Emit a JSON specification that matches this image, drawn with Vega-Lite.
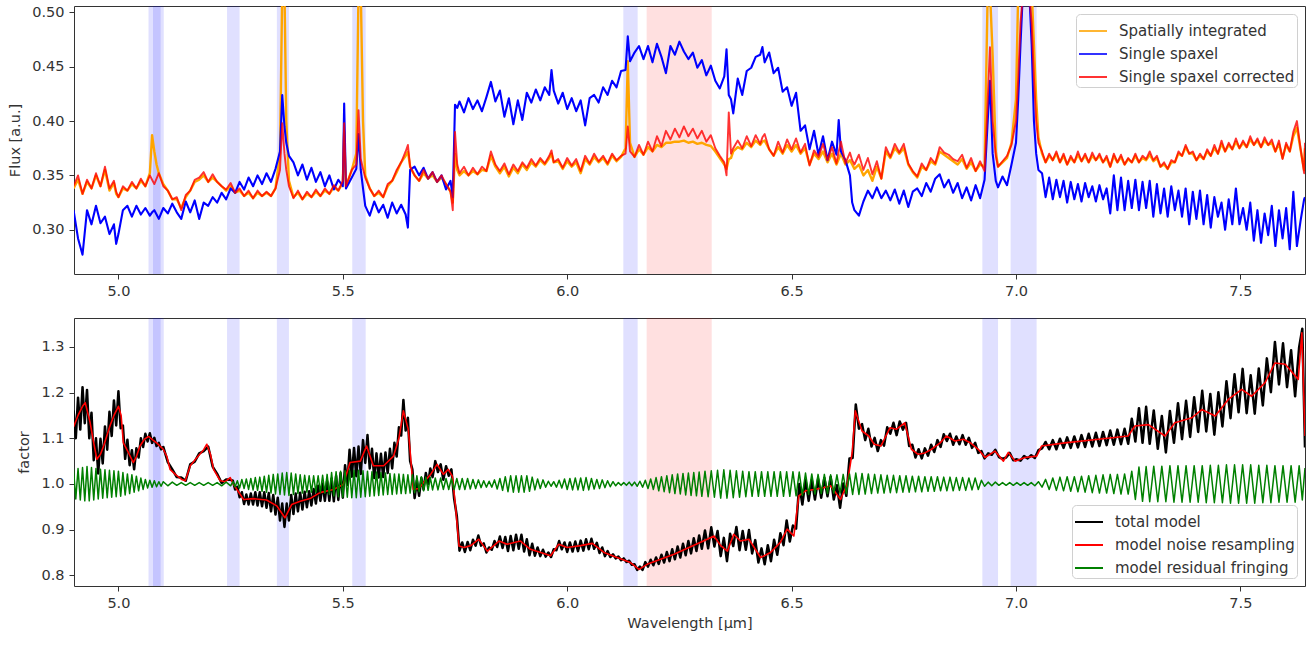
{
"$schema":"https://vega.github.io/schema/vega-lite/v6.json",
"padding":{"left":7,"top":3,"right":8,"bottom":5},
"spacing":19,
"resolve":{"scale":{"color":"independent"}},
"config":{
"font":"DejaVu Sans",
"view":{"stroke":"#333","strokeWidth":1},
"axis":{"grid":false,"domain":false,"tickColor":"#333","tickSize":5,"labelFont":"DejaVu Sans","labelFontSize":14.5,"labelColor":"#333","titleFont":"DejaVu Sans","titleFontSize":14.5,"titleFontWeight":"normal","titleColor":"#333","labelPadding":5,"titlePadding":9},
"legend":{"labelFont":"DejaVu Sans","labelFontSize":15,"labelColor":"#333","labelLimit":400,"symbolType":"stroke","symbolSize":784,"symbolStrokeWidth":2,"fillColor":"white","strokeColor":"#d0d0d0","cornerRadius":4,"padding":2,"rowPadding":-1,"labelOffset":11,"offset":8}
},
"datasets":{
"bb":[{"x":5.067,"x2":5.094},{"x":5.077,"x2":5.101},{"x":5.242,"x2":5.27},{"x":5.353,"x2":5.38},{"x":5.521,"x2":5.551},{"x":6.125,"x2":6.157},{"x":6.925,"x2":6.96},{"x":6.988,"x2":7.046}],
"br":[{"x":6.177,"x2":6.322}],
"top":[
{"x":4.9,"b":0.318,"c":0.34,"s":0.338},{"x":4.91,"b":0.292,"c":0.35,"s":0.346},{"x":4.92,"b":0.277,"c":0.333,"s":0.333},{"x":4.93,"b":0.318,"c":0.346,"s":0.344},{"x":4.94,"b":0.305,"c":0.338,"s":0.338},{"x":4.95,"b":0.322,"c":0.352,"s":0.35},{"x":4.96,"b":0.306,"c":0.34,"s":0.34},{"x":4.97,"b":0.312,"c":0.358,"s":0.355},{"x":4.98,"b":0.296,"c":0.338,"s":0.336},{"x":4.99,"b":0.305,"c":0.345,"s":0.343},{"x":4.995,"b":0.287,"c":0.335,"s":0.333},
{"x":5.0,"b":0.296,"c":0.33,"s":0.33},{"x":5.01,"b":0.318,"c":0.34,"s":0.338},{"x":5.02,"b":0.322,"c":0.336,"s":0.336},{"x":5.03,"b":0.312,"c":0.344,"s":0.342},{"x":5.04,"b":0.322,"c":0.338,"s":0.338},{"x":5.05,"b":0.314,"c":0.347,"s":0.345},{"x":5.06,"b":0.32,"c":0.34,"s":0.34},{"x":5.07,"b":0.313,"c":0.35,"s":0.352},{"x":5.075,"b":0.316,"c":0.346,"s":0.387},{"x":5.08,"b":0.318,"c":0.342,"s":0.372},{"x":5.085,"b":0.314,"c":0.347,"s":0.36},{"x":5.09,"b":0.31,"c":0.352,"s":0.352},
{"x":5.1,"b":0.32,"c":0.34,"s":0.342},{"x":5.11,"b":0.315,"c":0.336,"s":0.336},{"x":5.12,"b":0.324,"c":0.328,"s":0.328},{"x":5.13,"b":0.316,"c":0.33,"s":0.328},{"x":5.14,"b":0.31,"c":0.318,"s":0.32},{"x":5.15,"b":0.326,"c":0.332,"s":0.33},{"x":5.16,"b":0.316,"c":0.336,"s":0.336},{"x":5.17,"b":0.327,"c":0.346,"s":0.344},{"x":5.18,"b":0.31,"c":0.348,"s":0.346},{"x":5.19,"b":0.325,"c":0.353,"s":0.35},
{"x":5.2,"b":0.322,"c":0.344,"s":0.344},{"x":5.21,"b":0.33,"c":0.351,"s":0.348},{"x":5.22,"b":0.325,"c":0.344,"s":0.344},{"x":5.23,"b":0.334,"c":0.34,"s":0.34},{"x":5.24,"b":0.328,"c":0.337,"s":0.336},{"x":5.25,"b":0.338,"c":0.343,"s":0.34},{"x":5.26,"b":0.334,"c":0.334,"s":0.334},{"x":5.27,"b":0.344,"c":0.338,"s":0.336},{"x":5.28,"b":0.337,"c":0.331,"s":0.331},{"x":5.29,"b":0.348,"c":0.336,"s":0.334},
{"x":5.3,"b":0.34,"c":0.329,"s":0.329},{"x":5.31,"b":0.35,"c":0.336,"s":0.334},{"x":5.32,"b":0.342,"c":0.331,"s":0.331},{"x":5.33,"b":0.352,"c":0.335,"s":0.334},{"x":5.34,"b":0.344,"c":0.331,"s":0.331},{"x":5.35,"b":0.356,"c":0.338,"s":0.338},{"x":5.36,"b":0.372,"c":0.355,"s":0.37},{"x":5.365,"b":0.424,"c":0.398,"s":0.52},{"x":5.37,"b":0.395,"c":0.37,"s":0.52},{"x":5.374,"b":0.38,"c":0.355,"s":0.4},{"x":5.38,"b":0.368,"c":0.34,"s":0.345},{"x":5.39,"b":0.362,"c":0.329,"s":0.33},
{"x":5.4,"b":0.35,"c":0.336,"s":0.334},{"x":5.41,"b":0.36,"c":0.328,"s":0.328},{"x":5.42,"b":0.346,"c":0.335,"s":0.333},{"x":5.43,"b":0.357,"c":0.33,"s":0.33},{"x":5.44,"b":0.344,"c":0.337,"s":0.335},{"x":5.45,"b":0.353,"c":0.331,"s":0.331},{"x":5.46,"b":0.34,"c":0.338,"s":0.336},{"x":5.47,"b":0.35,"c":0.333,"s":0.333},{"x":5.48,"b":0.337,"c":0.341,"s":0.339},{"x":5.49,"b":0.346,"c":0.336,"s":0.336},
{"x":5.5,"b":0.34,"c":0.345,"s":0.343},{"x":5.503,"b":0.416,"c":0.398,"s":0.39},{"x":5.507,"b":0.338,"c":0.34,"s":0.34},{"x":5.52,"b":0.348,"c":0.355,"s":0.355},{"x":5.53,"b":0.356,"c":0.36,"s":0.37},{"x":5.535,"b":0.388,"c":0.41,"s":0.52},{"x":5.54,"b":0.355,"c":0.365,"s":0.52},{"x":5.545,"b":0.338,"c":0.356,"s":0.4},{"x":5.55,"b":0.322,"c":0.348,"s":0.35},{"x":5.56,"b":0.313,"c":0.338,"s":0.338},{"x":5.57,"b":0.326,"c":0.331,"s":0.331},{"x":5.58,"b":0.316,"c":0.336,"s":0.334},{"x":5.59,"b":0.323,"c":0.33,"s":0.33},
{"x":5.6,"b":0.311,"c":0.342,"s":0.34},{"x":5.61,"b":0.325,"c":0.345,"s":0.345},{"x":5.62,"b":0.315,"c":0.355,"s":0.353},{"x":5.63,"b":0.323,"c":0.362,"s":0.362},{"x":5.64,"b":0.314,"c":0.372,"s":0.368},{"x":5.645,"b":0.302,"c":0.378,"s":0.372},{"x":5.65,"b":0.355,"c":0.358,"s":0.358},{"x":5.66,"b":0.358,"c":0.35,"s":0.35},{"x":5.67,"b":0.35,"c":0.345,"s":0.345},{"x":5.68,"b":0.357,"c":0.355,"s":0.352},{"x":5.69,"b":0.347,"c":0.347,"s":0.347},
{"x":5.7,"b":0.353,"c":0.353,"s":0.35},{"x":5.71,"b":0.344,"c":0.344,"s":0.344},{"x":5.72,"b":0.35,"c":0.35,"s":0.348},{"x":5.73,"b":0.337,"c":0.342,"s":0.342},{"x":5.74,"b":0.345,"c":0.335,"s":0.335},{"x":5.745,"b":0.33,"c":0.318,"s":0.325},{"x":5.75,"b":0.415,"c":0.39,"s":0.37},{"x":5.755,"b":0.412,"c":0.36,"s":0.355},{"x":5.76,"b":0.418,"c":0.352,"s":0.35},{"x":5.77,"b":0.408,"c":0.358,"s":0.354},{"x":5.78,"b":0.421,"c":0.35,"s":0.35},{"x":5.79,"b":0.411,"c":0.357,"s":0.354},
{"x":5.8,"b":0.419,"c":0.351,"s":0.351},{"x":5.81,"b":0.409,"c":0.358,"s":0.355},{"x":5.82,"b":0.422,"c":0.354,"s":0.354},{"x":5.83,"b":0.436,"c":0.372,"s":0.368},{"x":5.84,"b":0.418,"c":0.36,"s":0.358},{"x":5.85,"b":0.428,"c":0.354,"s":0.352},{"x":5.86,"b":0.404,"c":0.361,"s":0.358},{"x":5.87,"b":0.421,"c":0.351,"s":0.349},{"x":5.88,"b":0.397,"c":0.36,"s":0.357},{"x":5.89,"b":0.419,"c":0.354,"s":0.352},
{"x":5.9,"b":0.401,"c":0.362,"s":0.36},{"x":5.91,"b":0.426,"c":0.357,"s":0.355},{"x":5.92,"b":0.417,"c":0.365,"s":0.362},{"x":5.93,"b":0.429,"c":0.359,"s":0.358},{"x":5.94,"b":0.419,"c":0.366,"s":0.364},{"x":5.95,"b":0.431,"c":0.361,"s":0.36},{"x":5.96,"b":0.424,"c":0.368,"s":0.366},{"x":5.965,"b":0.447,"c":0.373,"s":0.37},{"x":5.97,"b":0.428,"c":0.362,"s":0.362},{"x":5.98,"b":0.416,"c":0.365,"s":0.363},{"x":5.99,"b":0.426,"c":0.357,"s":0.356},
{"x":6.0,"b":0.411,"c":0.366,"s":0.363},{"x":6.01,"b":0.421,"c":0.359,"s":0.358},{"x":6.02,"b":0.409,"c":0.365,"s":0.362},{"x":6.03,"b":0.419,"c":0.354,"s":0.352},{"x":6.04,"b":0.396,"c":0.368,"s":0.365},{"x":6.05,"b":0.421,"c":0.361,"s":0.36},{"x":6.06,"b":0.424,"c":0.37,"s":0.367},{"x":6.07,"b":0.417,"c":0.363,"s":0.362},{"x":6.08,"b":0.431,"c":0.368,"s":0.366},{"x":6.09,"b":0.424,"c":0.361,"s":0.36},
{"x":6.1,"b":0.437,"c":0.37,"s":0.368},{"x":6.11,"b":0.431,"c":0.364,"s":0.363},{"x":6.12,"b":0.446,"c":0.368,"s":0.367},{"x":6.13,"b":0.447,"c":0.37,"s":0.375},{"x":6.135,"b":0.478,"c":0.395,"s":0.455},{"x":6.14,"b":0.455,"c":0.372,"s":0.38},{"x":6.15,"b":0.463,"c":0.367,"s":0.367},{"x":6.16,"b":0.469,"c":0.378,"s":0.374},{"x":6.17,"b":0.457,"c":0.369,"s":0.369},{"x":6.18,"b":0.469,"c":0.381,"s":0.376},{"x":6.19,"b":0.454,"c":0.372,"s":0.372},
{"x":6.2,"b":0.471,"c":0.386,"s":0.378},{"x":6.21,"b":0.459,"c":0.377,"s":0.376},{"x":6.22,"b":0.444,"c":0.391,"s":0.38},{"x":6.23,"b":0.469,"c":0.383,"s":0.38},{"x":6.24,"b":0.461,"c":0.393,"s":0.381},{"x":6.25,"b":0.473,"c":0.385,"s":0.381},{"x":6.26,"b":0.464,"c":0.395,"s":0.382},{"x":6.27,"b":0.457,"c":0.386,"s":0.38},{"x":6.28,"b":0.463,"c":0.393,"s":0.381},{"x":6.29,"b":0.449,"c":0.384,"s":0.379},
{"x":6.3,"b":0.456,"c":0.391,"s":0.38},{"x":6.31,"b":0.442,"c":0.381,"s":0.378},{"x":6.32,"b":0.451,"c":0.387,"s":0.377},{"x":6.33,"b":0.437,"c":0.375,"s":0.372},{"x":6.34,"b":0.43,"c":0.368,"s":0.366},{"x":6.35,"b":0.441,"c":0.362,"s":0.36},{"x":6.355,"b":0.466,"c":0.35,"s":0.356},{"x":6.36,"b":0.424,"c":0.408,"s":0.365},{"x":6.365,"b":0.42,"c":0.37,"s":0.366},{"x":6.37,"b":0.407,"c":0.375,"s":0.372},{"x":6.38,"b":0.439,"c":0.382,"s":0.376},{"x":6.39,"b":0.424,"c":0.375,"s":0.374},
{"x":6.4,"b":0.446,"c":0.386,"s":0.38},{"x":6.41,"b":0.449,"c":0.377,"s":0.376},{"x":6.42,"b":0.459,"c":0.387,"s":0.382},{"x":6.43,"b":0.461,"c":0.379,"s":0.378},{"x":6.435,"b":0.468,"c":0.385,"s":0.381},{"x":6.44,"b":0.454,"c":0.388,"s":0.382},{"x":6.45,"b":0.463,"c":0.374,"s":0.374},{"x":6.46,"b":0.444,"c":0.368,"s":0.368},{"x":6.47,"b":0.449,"c":0.381,"s":0.376},{"x":6.48,"b":0.427,"c":0.371,"s":0.37},{"x":6.49,"b":0.431,"c":0.383,"s":0.378},
{"x":6.5,"b":0.414,"c":0.374,"s":0.372},{"x":6.51,"b":0.426,"c":0.384,"s":0.378},{"x":6.52,"b":0.391,"c":0.371,"s":0.37},{"x":6.53,"b":0.396,"c":0.379,"s":0.375},{"x":6.54,"b":0.374,"c":0.359,"s":0.36},{"x":6.55,"b":0.391,"c":0.373,"s":0.37},{"x":6.56,"b":0.369,"c":0.367,"s":0.365},{"x":6.57,"b":0.386,"c":0.379,"s":0.372},{"x":6.58,"b":0.364,"c":0.364,"s":0.362},{"x":6.59,"b":0.381,"c":0.376,"s":0.37},
{"x":6.6,"b":0.369,"c":0.361,"s":0.36},{"x":6.605,"b":0.401,"c":0.372,"s":0.365},{"x":6.61,"b":0.372,"c":0.381,"s":0.37},{"x":6.62,"b":0.364,"c":0.361,"s":0.36},{"x":6.63,"b":0.35,"c":0.371,"s":0.364},{"x":6.635,"b":0.325,"c":0.364,"s":0.36},{"x":6.64,"b":0.318,"c":0.36,"s":0.356},{"x":6.65,"b":0.313,"c":0.369,"s":0.36},{"x":6.66,"b":0.326,"c":0.355,"s":0.35},{"x":6.67,"b":0.336,"c":0.366,"s":0.355},{"x":6.68,"b":0.329,"c":0.351,"s":0.345},{"x":6.69,"b":0.339,"c":0.363,"s":0.358},
{"x":6.7,"b":0.329,"c":0.347,"s":0.347},{"x":6.71,"b":0.336,"c":0.376,"s":0.372},{"x":6.72,"b":0.327,"c":0.367,"s":0.366},{"x":6.73,"b":0.337,"c":0.379,"s":0.375},{"x":6.74,"b":0.324,"c":0.371,"s":0.37},{"x":6.75,"b":0.336,"c":0.379,"s":0.375},{"x":6.76,"b":0.321,"c":0.361,"s":0.36},{"x":6.77,"b":0.335,"c":0.354,"s":0.353},{"x":6.78,"b":0.338,"c":0.349,"s":0.348},{"x":6.79,"b":0.331,"c":0.361,"s":0.358},
{"x":6.8,"b":0.343,"c":0.355,"s":0.355},{"x":6.81,"b":0.335,"c":0.366,"s":0.363},{"x":6.82,"b":0.347,"c":0.361,"s":0.36},{"x":6.83,"b":0.351,"c":0.376,"s":0.372},{"x":6.84,"b":0.339,"c":0.371,"s":0.369},{"x":6.85,"b":0.346,"c":0.369,"s":0.366},{"x":6.86,"b":0.334,"c":0.365,"s":0.363},{"x":6.87,"b":0.343,"c":0.363,"s":0.36},{"x":6.88,"b":0.329,"c":0.369,"s":0.365},{"x":6.89,"b":0.339,"c":0.357,"s":0.356},
{"x":6.9,"b":0.327,"c":0.366,"s":0.362},{"x":6.91,"b":0.341,"c":0.354,"s":0.354},{"x":6.92,"b":0.329,"c":0.363,"s":0.36},{"x":6.93,"b":0.346,"c":0.354,"s":0.358},{"x":6.937,"b":0.4,"c":0.42,"s":0.52},{"x":6.942,"b":0.437,"c":0.468,"s":0.52},{"x":6.948,"b":0.37,"c":0.4,"s":0.46},{"x":6.955,"b":0.345,"c":0.368,"s":0.372},{"x":6.96,"b":0.339,"c":0.358,"s":0.358},{"x":6.97,"b":0.349,"c":0.363,"s":0.362},{"x":6.98,"b":0.341,"c":0.368,"s":0.366},{"x":6.99,"b":0.36,"c":0.378,"s":0.38},
{"x":7.0,"b":0.38,"c":0.4,"s":0.42},{"x":7.005,"b":0.42,"c":0.44,"s":0.52},{"x":7.01,"b":0.47,"c":0.49,"s":0.52},{"x":7.015,"b":0.515,"c":0.515,"s":0.52},{"x":7.03,"b":0.515,"c":0.515,"s":0.52},{"x":7.035,"b":0.47,"c":0.49,"s":0.52},{"x":7.04,"b":0.4,"c":0.44,"s":0.47},{"x":7.045,"b":0.37,"c":0.4,"s":0.42},{"x":7.05,"b":0.355,"c":0.38,"s":0.385},
{"x":7.058,"b":0.352,"c":0.372,"s":0.37},{"x":7.066,"b":0.33,"c":0.362,"s":0.362},{"x":7.074,"b":0.348,"c":0.37,"s":0.368},{"x":7.082,"b":0.328,"c":0.364,"s":0.364},{"x":7.09,"b":0.346,"c":0.372,"s":0.37},{"x":7.098,"b":0.33,"c":0.362,"s":0.362},{"x":7.106,"b":0.345,"c":0.37,"s":0.368},{"x":7.114,"b":0.325,"c":0.36,"s":0.36},{"x":7.122,"b":0.344,"c":0.368,"s":0.366},{"x":7.13,"b":0.328,"c":0.362,"s":0.362},
{"x":7.138,"b":0.342,"c":0.372,"s":0.369},{"x":7.146,"b":0.326,"c":0.363,"s":0.363},{"x":7.154,"b":0.343,"c":0.37,"s":0.368},{"x":7.162,"b":0.33,"c":0.362,"s":0.362},{"x":7.17,"b":0.34,"c":0.371,"s":0.368},{"x":7.178,"b":0.326,"c":0.364,"s":0.364},{"x":7.186,"b":0.341,"c":0.37,"s":0.368},{"x":7.194,"b":0.328,"c":0.362,"s":0.362},{"x":7.202,"b":0.338,"c":0.368,"s":0.366},{"x":7.21,"b":0.315,"c":0.358,"s":0.358},
{"x":7.218,"b":0.35,"c":0.37,"s":0.368},{"x":7.226,"b":0.318,"c":0.362,"s":0.362},{"x":7.234,"b":0.348,"c":0.369,"s":0.367},{"x":7.242,"b":0.318,"c":0.36,"s":0.36},{"x":7.25,"b":0.345,"c":0.366,"s":0.365},{"x":7.258,"b":0.32,"c":0.362,"s":0.362},{"x":7.266,"b":0.346,"c":0.37,"s":0.368},{"x":7.274,"b":0.318,"c":0.362,"s":0.362},{"x":7.282,"b":0.344,"c":0.368,"s":0.366},{"x":7.29,"b":0.32,"c":0.365,"s":0.364},
{"x":7.298,"b":0.345,"c":0.372,"s":0.369},{"x":7.306,"b":0.312,"c":0.364,"s":0.363},{"x":7.314,"b":0.342,"c":0.368,"s":0.366},{"x":7.322,"b":0.315,"c":0.358,"s":0.358},{"x":7.33,"b":0.338,"c":0.362,"s":0.36},{"x":7.338,"b":0.312,"c":0.356,"s":0.356},{"x":7.346,"b":0.34,"c":0.364,"s":0.362},{"x":7.354,"b":0.318,"c":0.362,"s":0.362},{"x":7.362,"b":0.336,"c":0.372,"s":0.37},{"x":7.37,"b":0.312,"c":0.368,"s":0.368},
{"x":7.378,"b":0.338,"c":0.378,"s":0.376},{"x":7.386,"b":0.305,"c":0.37,"s":0.37},{"x":7.394,"b":0.335,"c":0.372,"s":0.37},{"x":7.402,"b":0.31,"c":0.364,"s":0.364},{"x":7.41,"b":0.336,"c":0.37,"s":0.368},{"x":7.418,"b":0.305,"c":0.365,"s":0.365},{"x":7.426,"b":0.332,"c":0.374,"s":0.372},{"x":7.434,"b":0.302,"c":0.368,"s":0.368},{"x":7.442,"b":0.33,"c":0.378,"s":0.375},{"x":7.45,"b":0.312,"c":0.37,"s":0.37},
{"x":7.458,"b":0.325,"c":0.382,"s":0.379},{"x":7.466,"b":0.3,"c":0.372,"s":0.372},{"x":7.474,"b":0.328,"c":0.38,"s":0.378},{"x":7.482,"b":0.305,"c":0.374,"s":0.374},{"x":7.49,"b":0.338,"c":0.384,"s":0.381},{"x":7.498,"b":0.305,"c":0.375,"s":0.375},{"x":7.506,"b":0.32,"c":0.382,"s":0.38},{"x":7.514,"b":0.3,"c":0.376,"s":0.376},{"x":7.522,"b":0.325,"c":0.386,"s":0.383},{"x":7.53,"b":0.29,"c":0.378,"s":0.378},
{"x":7.538,"b":0.318,"c":0.384,"s":0.382},{"x":7.546,"b":0.288,"c":0.376,"s":0.376},{"x":7.554,"b":0.315,"c":0.385,"s":0.382},{"x":7.562,"b":0.295,"c":0.378,"s":0.378},{"x":7.57,"b":0.322,"c":0.383,"s":0.38},{"x":7.578,"b":0.285,"c":0.372,"s":0.372},{"x":7.586,"b":0.318,"c":0.382,"s":0.379},{"x":7.594,"b":0.292,"c":0.365,"s":0.366},{"x":7.602,"b":0.32,"c":0.38,"s":0.378},{"x":7.61,"b":0.282,"c":0.372,"s":0.372},
{"x":7.618,"b":0.335,"c":0.39,"s":0.386},{"x":7.626,"b":0.285,"c":0.4,"s":0.394},{"x":7.634,"b":0.308,"c":0.375,"s":0.374},{"x":7.642,"b":0.328,"c":0.352,"s":0.355},{"x":7.644,"b":0.33,"c":0.38,"s":0.375}],
"nz":[
{"x":4.9,"y":1.125},{"x":4.91,"y":1.15},{"x":4.92,"y":1.17},{"x":4.926,"y":1.178},{"x":4.937,"y":1.134},{"x":4.945,"y":1.09},{"x":4.952,"y":1.054},{"x":4.96,"y":1.065},{"x":4.967,"y":1.083},{"x":4.981,"y":1.127},{"x":4.99,"y":1.15},{"x":5.0,"y":1.17},{"x":5.006,"y":1.15},{"x":5.011,"y":1.09},{"x":5.022,"y":1.069},{"x":5.033,"y":1.047},{"x":5.04,"y":1.06},{"x":5.048,"y":1.083},{"x":5.058,"y":1.098},{"x":5.067,"y":1.104},{"x":5.077,"y":1.096},{"x":5.085,"y":1.09},{"x":5.1,"y":1.076},{"x":5.108,"y":1.06},{"x":5.115,"y":1.032},{"x":5.128,"y":1.02},{"x":5.141,"y":1.01},{"x":5.149,"y":1.007},{"x":5.16,"y":1.04},{"x":5.175,"y":1.058},{"x":5.19,"y":1.075},{"x":5.197,"y":1.087},{"x":5.205,"y":1.065},{"x":5.212,"y":1.032},{"x":5.227,"y":1.007},{"x":5.238,"y":1.005},{"x":5.249,"y":1.014},{"x":5.256,"y":1.0},{"x":5.264,"y":0.988},{"x":5.279,"y":0.966},{"x":5.3,"y":0.968},{"x":5.33,"y":0.965},{"x":5.353,"y":0.952},{"x":5.371,"y":0.926},{"x":5.386,"y":0.955},{"x":5.405,"y":0.962},{"x":5.427,"y":0.968},{"x":5.449,"y":0.981},{"x":5.479,"y":0.988},{"x":5.501,"y":0.999},{"x":5.516,"y":1.047},{"x":5.539,"y":1.05},{"x":5.553,"y":1.083},{"x":5.568,"y":1.04},{"x":5.591,"y":1.04},{"x":5.613,"y":1.061},{"x":5.625,"y":1.1},{"x":5.635,"y":1.16},{"x":5.646,"y":1.119},{"x":5.657,"y":0.988},{"x":5.669,"y":0.99},{"x":5.68,"y":1.003},{"x":5.695,"y":1.02},{"x":5.71,"y":1.043},{"x":5.724,"y":1.021},{"x":5.735,"y":1.032},{"x":5.744,"y":1.017},{"x":5.751,"y":0.952},{"x":5.759,"y":0.864},{"x":5.77,"y":0.861},{"x":5.785,"y":0.865},{"x":5.803,"y":0.879},{"x":5.822,"y":0.853},{"x":5.848,"y":0.875},{"x":5.866,"y":0.868},{"x":5.896,"y":0.875},{"x":5.918,"y":0.857},{"x":5.941,"y":0.85},{"x":5.963,"y":0.843},{"x":5.981,"y":0.868},{"x":6.0,"y":0.861},{"x":6.03,"y":0.865},{"x":6.056,"y":0.87},{"x":6.082,"y":0.85},{"x":6.111,"y":0.839},{"x":6.141,"y":0.828},{"x":6.16,"y":0.813},{"x":6.178,"y":0.824},{"x":6.238,"y":0.846},{"x":6.312,"y":0.879},{"x":6.327,"y":0.886},{"x":6.342,"y":0.865},{"x":6.357,"y":0.853},{"x":6.371,"y":0.89},{"x":6.386,"y":0.875},{"x":6.405,"y":0.879},{"x":6.431,"y":0.839},{"x":6.453,"y":0.85},{"x":6.475,"y":0.872},{"x":6.49,"y":0.901},{"x":6.505,"y":0.886},{"x":6.516,"y":0.974},{"x":6.531,"y":0.985},{"x":6.55,"y":0.988},{"x":6.572,"y":0.992},{"x":6.587,"y":0.996},{"x":6.609,"y":0.966},{"x":6.624,"y":1.0},{"x":6.635,"y":1.069},{"x":6.642,"y":1.16},{"x":6.657,"y":1.116},{"x":6.672,"y":1.105},{"x":6.684,"y":1.087},{"x":6.699,"y":1.083},{"x":6.719,"y":1.123},{"x":6.734,"y":1.12},{"x":6.752,"y":1.134},{"x":6.767,"y":1.076},{"x":6.782,"y":1.065},{"x":6.797,"y":1.068},{"x":6.812,"y":1.076},{"x":6.831,"y":1.09},{"x":6.845,"y":1.105},{"x":6.864,"y":1.094},{"x":6.883,"y":1.098},{"x":6.9,"y":1.089},{"x":6.916,"y":1.076},{"x":6.931,"y":1.058},{"x":6.953,"y":1.072},{"x":6.972,"y":1.05},{"x":6.983,"y":1.069},{"x":6.998,"y":1.05},{"x":7.02,"y":1.058},{"x":7.046,"y":1.061},{"x":7.057,"y":1.083},{"x":7.109,"y":1.09},{"x":7.184,"y":1.098},{"x":7.25,"y":1.105},{"x":7.265,"y":1.127},{"x":7.295,"y":1.13},{"x":7.332,"y":1.105},{"x":7.354,"y":1.134},{"x":7.392,"y":1.145},{"x":7.414,"y":1.163},{"x":7.444,"y":1.149},{"x":7.473,"y":1.185},{"x":7.503,"y":1.207},{"x":7.525,"y":1.192},{"x":7.555,"y":1.222},{"x":7.577,"y":1.265},{"x":7.6,"y":1.262},{"x":7.629,"y":1.229},{"x":7.637,"y":1.331},{"x":7.644,"y":1.105}],
"fr":[
{"x":4.9,"t":1.161,"f":1.032},{"x":4.905,"t":1.1,"f":0.967},{"x":4.91,"t":1.189,"f":1.034},{"x":4.915,"t":1.119,"f":0.965},{"x":4.92,"t":1.212,"f":1.036},{"x":4.925,"t":1.133,"f":0.963},{"x":4.93,"t":1.206,"f":1.038},{"x":4.935,"t":1.1,"f":0.963},{"x":4.94,"t":1.156,"f":1.036},{"x":4.945,"t":1.052,"f":0.965},
{"x":4.95,"t":1.1,"f":1.034},{"x":4.955,"t":1.023,"f":0.967},{"x":4.96,"t":1.099,"f":1.032},{"x":4.965,"t":1.045,"f":0.969},{"x":4.97,"t":1.126,"f":1.031},{"x":4.975,"t":1.075,"f":0.97},{"x":4.98,"t":1.158,"f":1.03},{"x":4.985,"t":1.105,"f":0.971},{"x":4.99,"t":1.183,"f":1.029},{"x":4.995,"t":1.128,"f":0.972},
{"x":5.0,"t":1.203,"f":1.028},{"x":5.005,"t":1.122,"f":0.973},{"x":5.01,"t":1.128,"f":1.025},{"x":5.015,"t":1.055,"f":0.976},{"x":5.02,"t":1.097,"f":1.022},{"x":5.025,"t":1.041,"f":0.979},{"x":5.03,"t":1.074,"f":1.02},{"x":5.035,"t":1.032,"f":0.982},{"x":5.04,"t":1.078,"f":1.017},{"x":5.045,"t":1.058,"f":0.985},
{"x":5.05,"t":1.1,"f":1.013},{"x":5.055,"t":1.081,"f":0.988},{"x":5.06,"t":1.11,"f":1.01},{"x":5.065,"t":1.093,"f":0.991},{"x":5.07,"t":1.111,"f":1.008},{"x":5.075,"t":1.09,"f":0.993},{"x":5.08,"t":1.101,"f":1.007},{"x":5.085,"t":1.083,"f":0.994},{"x":5.09,"t":1.09,"f":1.005},{"x":5.095,"t":1.076,"f":0.995},
{"x":5.1,"t":1.081,"f":1.005},{"x":5.11,"t":1.048,"f":0.996},{"x":5.12,"t":1.032,"f":1.004},{"x":5.13,"t":1.015,"f":0.997},{"x":5.14,"t":1.014,"f":1.003},{"x":5.15,"t":1.007,"f":0.997},{"x":5.16,"t":1.043,"f":1.003},{"x":5.17,"t":1.049,"f":0.997},{"x":5.18,"t":1.067,"f":1.003},{"x":5.19,"t":1.072,"f":0.997},
{"x":5.2,"t":1.082,"f":1.003},{"x":5.21,"t":1.038,"f":0.997},{"x":5.22,"t":1.022,"f":1.003},{"x":5.23,"t":1.002,"f":0.996},{"x":5.24,"t":1.01,"f":1.004},{"x":5.25,"t":1.009,"f":0.996},
{"x":5.255,"t":1.007,"f":1.005},{"x":5.26,"t":0.988,"f":0.994},{"x":5.265,"t":0.994,"f":1.007},{"x":5.27,"t":0.971,"f":0.991},{"x":5.275,"t":0.982,"f":1.01},{"x":5.28,"t":0.956,"f":0.99},{"x":5.285,"t":0.977,"f":1.011},{"x":5.29,"t":0.955,"f":0.988},{"x":5.295,"t":0.979,"f":1.012},
{"x":5.3,"t":0.955,"f":0.987},{"x":5.305,"t":0.982,"f":1.014},{"x":5.31,"t":0.953,"f":0.986},{"x":5.315,"t":0.982,"f":1.015},{"x":5.32,"t":0.951,"f":0.984},{"x":5.325,"t":0.982,"f":1.017},{"x":5.33,"t":0.948,"f":0.982},{"x":5.335,"t":0.98,"f":1.019},{"x":5.34,"t":0.94,"f":0.98},{"x":5.345,"t":0.976,"f":1.021},
{"x":5.35,"t":0.933,"f":0.978},{"x":5.355,"t":0.97,"f":1.022},{"x":5.36,"t":0.92,"f":0.977},{"x":5.365,"t":0.957,"f":1.024},{"x":5.37,"t":0.906,"f":0.976},{"x":5.375,"t":0.957,"f":1.025},{"x":5.38,"t":0.92,"f":0.975},{"x":5.385,"t":0.976,"f":1.024},{"x":5.39,"t":0.934,"f":0.977},{"x":5.395,"t":0.979,"f":1.022},
{"x":5.4,"t":0.94,"f":0.979},{"x":5.405,"t":0.981,"f":1.02},{"x":5.41,"t":0.944,"f":0.98},{"x":5.415,"t":0.983,"f":1.019},{"x":5.42,"t":0.949,"f":0.982},{"x":5.425,"t":0.984,"f":1.018},{"x":5.43,"t":0.953,"f":0.982},{"x":5.435,"t":0.989,"f":1.018},{"x":5.44,"t":0.957,"f":0.982},{"x":5.445,"t":0.996,"f":1.018},
{"x":5.45,"t":0.963,"f":0.982},{"x":5.455,"t":1.001,"f":1.019},{"x":5.46,"t":0.963,"f":0.98},{"x":5.465,"t":1.006,"f":1.021},{"x":5.47,"t":0.963,"f":0.977},{"x":5.475,"t":1.012,"f":1.025},{"x":5.48,"t":0.962,"f":0.974},{"x":5.485,"t":1.018,"f":1.027},{"x":5.49,"t":0.965,"f":0.972},{"x":5.495,"t":1.024,"f":1.028},
{"x":5.5,"t":0.97,"f":0.971},{"x":5.505,"t":1.041,"f":1.029},{"x":5.51,"t":0.998,"f":0.971},{"x":5.515,"t":1.075,"f":1.03},{"x":5.52,"t":1.016,"f":0.97},{"x":5.525,"t":1.079,"f":1.03},{"x":5.53,"t":1.017,"f":0.97},{"x":5.535,"t":1.082,"f":1.03},{"x":5.54,"t":1.022,"f":0.971},{"x":5.545,"t":1.096,"f":1.029},
{"x":5.55,"t":1.046,"f":0.972},{"x":5.555,"t":1.107,"f":1.028},{"x":5.56,"t":1.034,"f":0.973},{"x":5.565,"t":1.077,"f":1.027},{"x":5.57,"t":1.013,"f":0.974},{"x":5.575,"t":1.067,"f":1.026},{"x":5.58,"t":1.014,"f":0.975},{"x":5.585,"t":1.066,"f":1.025},{"x":5.59,"t":1.015,"f":0.976},{"x":5.595,"t":1.069,"f":1.024},
{"x":5.6,"t":1.024,"f":0.977},{"x":5.605,"t":1.077,"f":1.023},{"x":5.61,"t":1.034,"f":0.977},{"x":5.615,"t":1.09,"f":1.022},{"x":5.62,"t":1.06,"f":0.978},{"x":5.625,"t":1.124,"f":1.022},{"x":5.63,"t":1.106,"f":0.979},{"x":5.635,"t":1.184,"f":1.021},{"x":5.64,"t":1.117,"f":0.979},{"x":5.645,"t":1.145,"f":1.02},
{"x":5.65,"t":1.05,"f":0.98},{"x":5.655,"t":1.032,"f":1.02},{"x":5.66,"t":0.969,"f":0.981},{"x":5.665,"t":1.007,"f":1.018},{"x":5.67,"t":0.974,"f":0.983},{"x":5.675,"t":1.013,"f":1.016},{"x":5.68,"t":0.988,"f":0.985},{"x":5.685,"t":1.024,"f":1.015},{"x":5.69,"t":1.0,"f":0.986},{"x":5.695,"t":1.034,"f":1.014},
{"x":5.7,"t":1.015,"f":0.987},{"x":5.706,"t":1.05,"f":1.013},{"x":5.712,"t":1.026,"f":0.987},{"x":5.718,"t":1.043,"f":1.013},{"x":5.724,"t":1.009,"f":0.988},{"x":5.73,"t":1.039,"f":1.012},{"x":5.736,"t":1.018,"f":0.988},{"x":5.742,"t":1.032,"f":1.012},{"x":5.748,"t":0.968,"f":0.988},{"x":5.754,"t":0.93,"f":1.012},
{"x":5.76,"t":0.854,"f":0.988},{"x":5.766,"t":0.872,"f":1.012},{"x":5.772,"t":0.851,"f":0.988},{"x":5.778,"t":0.873,"f":1.012},{"x":5.784,"t":0.855,"f":0.989},{"x":5.79,"t":0.878,"f":1.01},{"x":5.796,"t":0.865,"f":0.99},{"x":5.802,"t":0.887,"f":1.009},{"x":5.808,"t":0.865,"f":0.992},{"x":5.814,"t":0.87,"f":1.007},
{"x":5.82,"t":0.85,"f":0.993},{"x":5.826,"t":0.861,"f":1.006},{"x":5.832,"t":0.856,"f":0.993},{"x":5.838,"t":0.875,"f":1.009},{"x":5.844,"t":0.862,"f":0.989},{"x":5.85,"t":0.885,"f":1.012},{"x":5.856,"t":0.86,"f":0.986},{"x":5.862,"t":0.884,"f":1.016},{"x":5.868,"t":0.853,"f":0.983},{"x":5.874,"t":0.886,"f":1.018},
{"x":5.88,"t":0.855,"f":0.982},{"x":5.886,"t":0.889,"f":1.018},{"x":5.892,"t":0.858,"f":0.982},{"x":5.898,"t":0.889,"f":1.018},{"x":5.904,"t":0.852,"f":0.982},{"x":5.91,"t":0.879,"f":1.018},{"x":5.916,"t":0.844,"f":0.984},{"x":5.922,"t":0.869,"f":1.015},{"x":5.928,"t":0.843,"f":0.987},{"x":5.934,"t":0.861,"f":1.011},
{"x":5.94,"t":0.842,"f":0.99},{"x":5.946,"t":0.856,"f":1.009},{"x":5.952,"t":0.841,"f":0.993},{"x":5.958,"t":0.85,"f":1.006},{"x":5.964,"t":0.84,"f":0.995},{"x":5.97,"t":0.857,"f":1.005},{"x":5.976,"t":0.855,"f":0.993},{"x":5.982,"t":0.875,"f":1.008},{"x":5.988,"t":0.857,"f":0.991},{"x":5.994,"t":0.872,"f":1.011},
{"x":6.0,"t":0.851,"f":0.988},{"x":6.006,"t":0.872,"f":1.012},{"x":6.012,"t":0.852,"f":0.987},{"x":6.018,"t":0.874,"f":1.013},{"x":6.024,"t":0.853,"f":0.987},{"x":6.03,"t":0.876,"f":1.013},{"x":6.036,"t":0.854,"f":0.986},{"x":6.042,"t":0.879,"f":1.014},{"x":6.048,"t":0.857,"f":0.987},{"x":6.054,"t":0.88,"f":1.012},
{"x":6.06,"t":0.858,"f":0.989},{"x":6.066,"t":0.871,"f":1.01},{"x":6.072,"t":0.849,"f":0.99},{"x":6.078,"t":0.861,"f":1.009},{"x":6.084,"t":0.842,"f":0.992},{"x":6.09,"t":0.853,"f":1.007},{"x":6.096,"t":0.84,"f":0.994},{"x":6.102,"t":0.846,"f":1.005},{"x":6.108,"t":0.837,"f":0.996},{"x":6.114,"t":0.841,"f":1.003},
{"x":6.12,"t":0.833,"f":0.997},{"x":6.126,"t":0.837,"f":1.003},{"x":6.132,"t":0.829,"f":0.997},{"x":6.138,"t":0.832,"f":1.004},{"x":6.144,"t":0.823,"f":0.996},{"x":6.15,"t":0.824,"f":1.004},{"x":6.156,"t":0.812,"f":0.995},{"x":6.162,"t":0.819,"f":1.006},{"x":6.168,"t":0.812,"f":0.993},{"x":6.174,"t":0.829,"f":1.008},
{"x":6.18,"t":0.819,"f":0.99},{"x":6.186,"t":0.834,"f":1.011},{"x":6.192,"t":0.822,"f":0.988},{"x":6.198,"t":0.839,"f":1.014},{"x":6.204,"t":0.825,"f":0.985},{"x":6.21,"t":0.845,"f":1.016},{"x":6.216,"t":0.828,"f":0.983},{"x":6.222,"t":0.851,"f":1.018},{"x":6.228,"t":0.831,"f":0.981},{"x":6.234,"t":0.857,"f":1.02},
{"x":6.24,"t":0.835,"f":0.979},{"x":6.246,"t":0.863,"f":1.022},{"x":6.252,"t":0.839,"f":0.978},{"x":6.258,"t":0.869,"f":1.023},{"x":6.264,"t":0.844,"f":0.976},{"x":6.27,"t":0.875,"f":1.024},{"x":6.276,"t":0.848,"f":0.975},{"x":6.282,"t":0.881,"f":1.025},{"x":6.288,"t":0.853,"f":0.974},{"x":6.294,"t":0.887,"f":1.026},
{"x":6.3,"t":0.858,"f":0.973},{"x":6.307,"t":0.898,"f":1.028},{"x":6.314,"t":0.859,"f":0.972},{"x":6.321,"t":0.905,"f":1.029},{"x":6.328,"t":0.863,"f":0.971},{"x":6.335,"t":0.897,"f":1.03},{"x":6.342,"t":0.842,"f":0.969},{"x":6.349,"t":0.882,"f":1.031},{"x":6.356,"t":0.831,"f":0.969},{"x":6.363,"t":0.891,"f":1.03},
{"x":6.37,"t":0.864,"f":0.97},{"x":6.377,"t":0.906,"f":1.029},{"x":6.384,"t":0.855,"f":0.971},{"x":6.391,"t":0.897,"f":1.028},{"x":6.398,"t":0.856,"f":0.972},{"x":6.405,"t":0.899,"f":1.027},{"x":6.412,"t":0.848,"f":0.973},{"x":6.419,"t":0.877,"f":1.027},{"x":6.426,"t":0.828,"f":0.973},{"x":6.433,"t":0.859,"f":1.027},
{"x":6.44,"t":0.824,"f":0.973},{"x":6.447,"t":0.866,"f":1.027},{"x":6.454,"t":0.831,"f":0.973},{"x":6.461,"t":0.878,"f":1.027},{"x":6.468,"t":0.845,"f":0.973},{"x":6.475,"t":0.892,"f":1.027},{"x":6.482,"t":0.866,"f":0.973},{"x":6.489,"t":0.92,"f":1.027},{"x":6.496,"t":0.874,"f":0.973},{"x":6.503,"t":0.909,"f":1.027},
{"x":6.51,"t":0.902,"f":0.974},{"x":6.517,"t":1.0,"f":1.026},{"x":6.524,"t":0.955,"f":0.975},{"x":6.531,"t":1.009,"f":1.024},{"x":6.538,"t":0.963,"f":0.977},{"x":6.545,"t":1.009,"f":1.022},{"x":6.552,"t":0.966,"f":0.978},{"x":6.559,"t":1.011,"f":1.021},{"x":6.566,"t":0.97,"f":0.979},{"x":6.573,"t":1.013,"f":1.021},
{"x":6.58,"t":0.973,"f":0.979},{"x":6.587,"t":1.016,"f":1.02},{"x":6.594,"t":0.966,"f":0.98},{"x":6.601,"t":0.997,"f":1.02},{"x":6.608,"t":0.948,"f":0.98},{"x":6.615,"t":1.001,"f":1.021},{"x":6.622,"t":0.974,"f":0.979},{"x":6.629,"t":1.056,"f":1.022},{"x":6.636,"t":1.057,"f":0.977},{"x":6.643,"t":1.174,"f":1.024},
{"x":6.65,"t":1.121,"f":0.977},{"x":6.657,"t":1.131,"f":1.023},{"x":6.664,"t":1.096,"f":0.978},{"x":6.671,"t":1.121,"f":1.022},{"x":6.678,"t":1.082,"f":0.979},{"x":6.685,"t":1.101,"f":1.021},{"x":6.692,"t":1.072,"f":0.98},{"x":6.699,"t":1.096,"f":1.02},{"x":6.706,"t":1.084,"f":0.98},{"x":6.713,"t":1.124,"f":1.019},
{"x":6.72,"t":1.11,"f":0.981},{"x":6.727,"t":1.134,"f":1.019},{"x":6.734,"t":1.107,"f":0.981},{"x":6.741,"t":1.137,"f":1.018},{"x":6.748,"t":1.119,"f":0.982},{"x":6.755,"t":1.134,"f":1.018},{"x":6.762,"t":1.083,"f":0.982},{"x":6.769,"t":1.086,"f":1.017},{"x":6.776,"t":1.058,"f":0.983},{"x":6.783,"t":1.076,"f":1.017},
{"x":6.79,"t":1.056,"f":0.983},{"x":6.797,"t":1.078,"f":1.016},{"x":6.804,"t":1.062,"f":0.984},{"x":6.811,"t":1.086,"f":1.016},{"x":6.818,"t":1.07,"f":0.984},{"x":6.825,"t":1.096,"f":1.016},{"x":6.832,"t":1.081,"f":0.985},{"x":6.839,"t":1.109,"f":1.015},{"x":6.846,"t":1.094,"f":0.985},{"x":6.853,"t":1.11,"f":1.015},
{"x":6.86,"t":1.086,"f":0.985},{"x":6.867,"t":1.104,"f":1.014},{"x":6.874,"t":1.087,"f":0.986},{"x":6.881,"t":1.107,"f":1.014},{"x":6.888,"t":1.086,"f":0.986},{"x":6.895,"t":1.101,"f":1.013},{"x":6.902,"t":1.079,"f":0.987},{"x":6.909,"t":1.09,"f":1.013},{"x":6.916,"t":1.068,"f":0.988},{"x":6.923,"t":1.072,"f":1.008},
{"x":6.93,"t":1.056,"f":0.995},{"x":6.938,"t":1.067,"f":1.004},{"x":6.946,"t":1.064,"f":0.996},{"x":6.954,"t":1.075,"f":1.004},{"x":6.962,"t":1.059,"f":0.997},{"x":6.97,"t":1.055,"f":1.003},{"x":6.978,"t":1.058,"f":0.997},{"x":6.986,"t":1.068,"f":1.003},{"x":6.994,"t":1.052,"f":0.997},{"x":7.002,"t":1.054,"f":1.003},
{"x":7.01,"t":1.051,"f":0.997},{"x":7.018,"t":1.061,"f":1.003},{"x":7.026,"t":1.056,"f":0.997},{"x":7.034,"t":1.063,"f":1.003},{"x":7.042,"t":1.057,"f":0.996},{"x":7.05,"t":1.074,"f":1.005},{"x":7.058,"t":1.078,"f":0.993},{"x":7.066,"t":1.092,"f":1.01},{"x":7.074,"t":1.076,"f":0.988},{"x":7.082,"t":1.096,"f":1.013},
{"x":7.09,"t":1.076,"f":0.986},{"x":7.098,"t":1.099,"f":1.015},{"x":7.106,"t":1.079,"f":0.985},{"x":7.114,"t":1.102,"f":1.016},{"x":7.122,"t":1.079,"f":0.984},{"x":7.13,"t":1.104,"f":1.016},{"x":7.138,"t":1.08,"f":0.983},{"x":7.146,"t":1.107,"f":1.017},{"x":7.154,"t":1.081,"f":0.982},{"x":7.162,"t":1.11,"f":1.018},
{"x":7.17,"t":1.082,"f":0.981},{"x":7.178,"t":1.112,"f":1.019},{"x":7.186,"t":1.083,"f":0.98},{"x":7.194,"t":1.114,"f":1.02},{"x":7.202,"t":1.085,"f":0.98},{"x":7.21,"t":1.117,"f":1.021},{"x":7.218,"t":1.086,"f":0.979},{"x":7.226,"t":1.119,"f":1.021},{"x":7.234,"t":1.087,"f":0.978},{"x":7.242,"t":1.121,"f":1.022},
{"x":7.25,"t":1.088,"f":0.978},{"x":7.258,"t":1.143,"f":1.028},{"x":7.266,"t":1.093,"f":0.966},{"x":7.274,"t":1.166,"f":1.037},{"x":7.282,"t":1.09,"f":0.962},{"x":7.29,"t":1.169,"f":1.038},{"x":7.298,"t":1.088,"f":0.961},{"x":7.307,"t":1.161,"f":1.039},{"x":7.316,"t":1.077,"f":0.961},{"x":7.325,"t":1.149,"f":1.039},
{"x":7.334,"t":1.069,"f":0.961},{"x":7.343,"t":1.16,"f":1.04},{"x":7.352,"t":1.09,"f":0.96},{"x":7.361,"t":1.177,"f":1.04},{"x":7.37,"t":1.098,"f":0.96},{"x":7.379,"t":1.182,"f":1.04},{"x":7.388,"t":1.103,"f":0.96},{"x":7.397,"t":1.19,"f":1.04},{"x":7.406,"t":1.114,"f":0.96},{"x":7.415,"t":1.204,"f":1.04},
{"x":7.424,"t":1.115,"f":0.959},{"x":7.433,"t":1.197,"f":1.041},{"x":7.442,"t":1.108,"f":0.959},{"x":7.451,"t":1.201,"f":1.041},{"x":7.46,"t":1.126,"f":0.959},{"x":7.469,"t":1.225,"f":1.042},{"x":7.478,"t":1.144,"f":0.958},{"x":7.487,"t":1.24,"f":1.042},{"x":7.496,"t":1.157,"f":0.958},{"x":7.505,"t":1.252,"f":1.042},
{"x":7.514,"t":1.155,"f":0.958},{"x":7.523,"t":1.238,"f":1.042},{"x":7.532,"t":1.154,"f":0.958},{"x":7.541,"t":1.253,"f":1.041},{"x":7.55,"t":1.172,"f":0.959},{"x":7.559,"t":1.275,"f":1.041},{"x":7.568,"t":1.201,"f":0.959},{"x":7.577,"t":1.311,"f":1.04},{"x":7.586,"t":1.218,"f":0.96},{"x":7.595,"t":1.308,"f":1.04},
{"x":7.604,"t":1.212,"f":0.96},{"x":7.613,"t":1.293,"f":1.04},{"x":7.622,"t":1.192,"f":0.96},{"x":7.631,"t":1.3,"f":1.04},{"x":7.638,"t":1.34,"f":0.965},{"x":7.644,"t":1.08,"f":1.035}]
},
"vconcat":[
{"width":1231,"height":268,
"encoding":{"x":{"field":"x","type":"quantitative","scale":{"domain":[4.901,7.644],"nice":false,"zero":false},"axis":{"values":[5,5.5,6,6.5,7,7.5],"format":".1f","title":null}}},
"layer":[
{"data":{"name":"bb"},"mark":{"type":"rect","color":"#0000ff","opacity":0.12},"encoding":{"x2":{"field":"x2"}}},
{"data":{"name":"br"},"mark":{"type":"rect","color":"#ff0000","opacity":0.12},"encoding":{"x2":{"field":"x2"}}},
{"data":{"name":"top"},"mark":{"type":"line","strokeWidth":2.4,"clip":true,"strokeJoin":"round"},"encoding":{"y":{"field":"s","type":"quantitative","scale":{"domain":[0.2593,0.5058],"nice":false,"zero":false},"axis":{"values":[0.3,0.35,0.4,0.45,0.5],"format":".2f","title":"Flux [a.u.]"}},"color":{"datum":"Spatially integrated","type":"nominal","scale":{"domain":["Spatially integrated","Single spaxel","Single spaxel corrected"],"range":["#ffa500","#0000ff","#ff0000"]},"legend":{"title":null,"orient":"top-right"}}}},
{"data":{"name":"top"},"mark":{"type":"line","strokeWidth":2.1,"clip":true,"strokeJoin":"round"},"encoding":{"y":{"field":"b","type":"quantitative","scale":{"domain":[0.2593,0.5058],"nice":false,"zero":false}},"color":{"datum":"Single spaxel","type":"nominal"}}},
{"data":{"name":"top"},"mark":{"type":"line","strokeWidth":1.9,"opacity":0.8,"clip":true,"strokeJoin":"round"},"encoding":{"y":{"field":"c","type":"quantitative","scale":{"domain":[0.2593,0.5058],"nice":false,"zero":false}},"color":{"datum":"Single spaxel corrected","type":"nominal"}}}
]},
{"width":1231,"height":268,
"encoding":{"x":{"field":"x","type":"quantitative","scale":{"domain":[4.901,7.644],"nice":false,"zero":false},"axis":{"values":[5,5.5,6,6.5,7,7.5],"format":".1f","title":"Wavelength [μm]","titlePadding":7}}},
"layer":[
{"data":{"name":"bb"},"mark":{"type":"rect","color":"#0000ff","opacity":0.12},"encoding":{"x2":{"field":"x2"}}},
{"data":{"name":"br"},"mark":{"type":"rect","color":"#ff0000","opacity":0.12},"encoding":{"x2":{"field":"x2"}}},
{"data":{"name":"fr"},"mark":{"type":"line","strokeWidth":2.5,"clip":true,"strokeJoin":"round"},"encoding":{"y":{"field":"t","type":"quantitative","scale":{"domain":[0.7766,1.3634],"nice":false,"zero":false},"axis":{"values":[0.8,0.9,1.0,1.1,1.2,1.3],"format":".1f","title":"factor"}},"color":{"datum":"total model","type":"nominal","scale":{"domain":["total model","model noise resampling","model residual fringing"],"range":["#000000","#ff0000","#008000"]},"legend":{"title":null,"orient":"bottom-right"}}}},
{"data":{"name":"nz"},"mark":{"type":"line","strokeWidth":1.6,"clip":true,"strokeJoin":"round"},"encoding":{"y":{"field":"y","type":"quantitative","scale":{"domain":[0.7766,1.3634],"nice":false,"zero":false}},"color":{"datum":"model noise resampling","type":"nominal"}}},
{"data":{"name":"fr"},"mark":{"type":"line","strokeWidth":1.5,"clip":true,"strokeJoin":"round"},"encoding":{"y":{"field":"f","type":"quantitative","scale":{"domain":[0.7766,1.3634],"nice":false,"zero":false}},"color":{"datum":"model residual fringing","type":"nominal"}}}
]}
]
}
